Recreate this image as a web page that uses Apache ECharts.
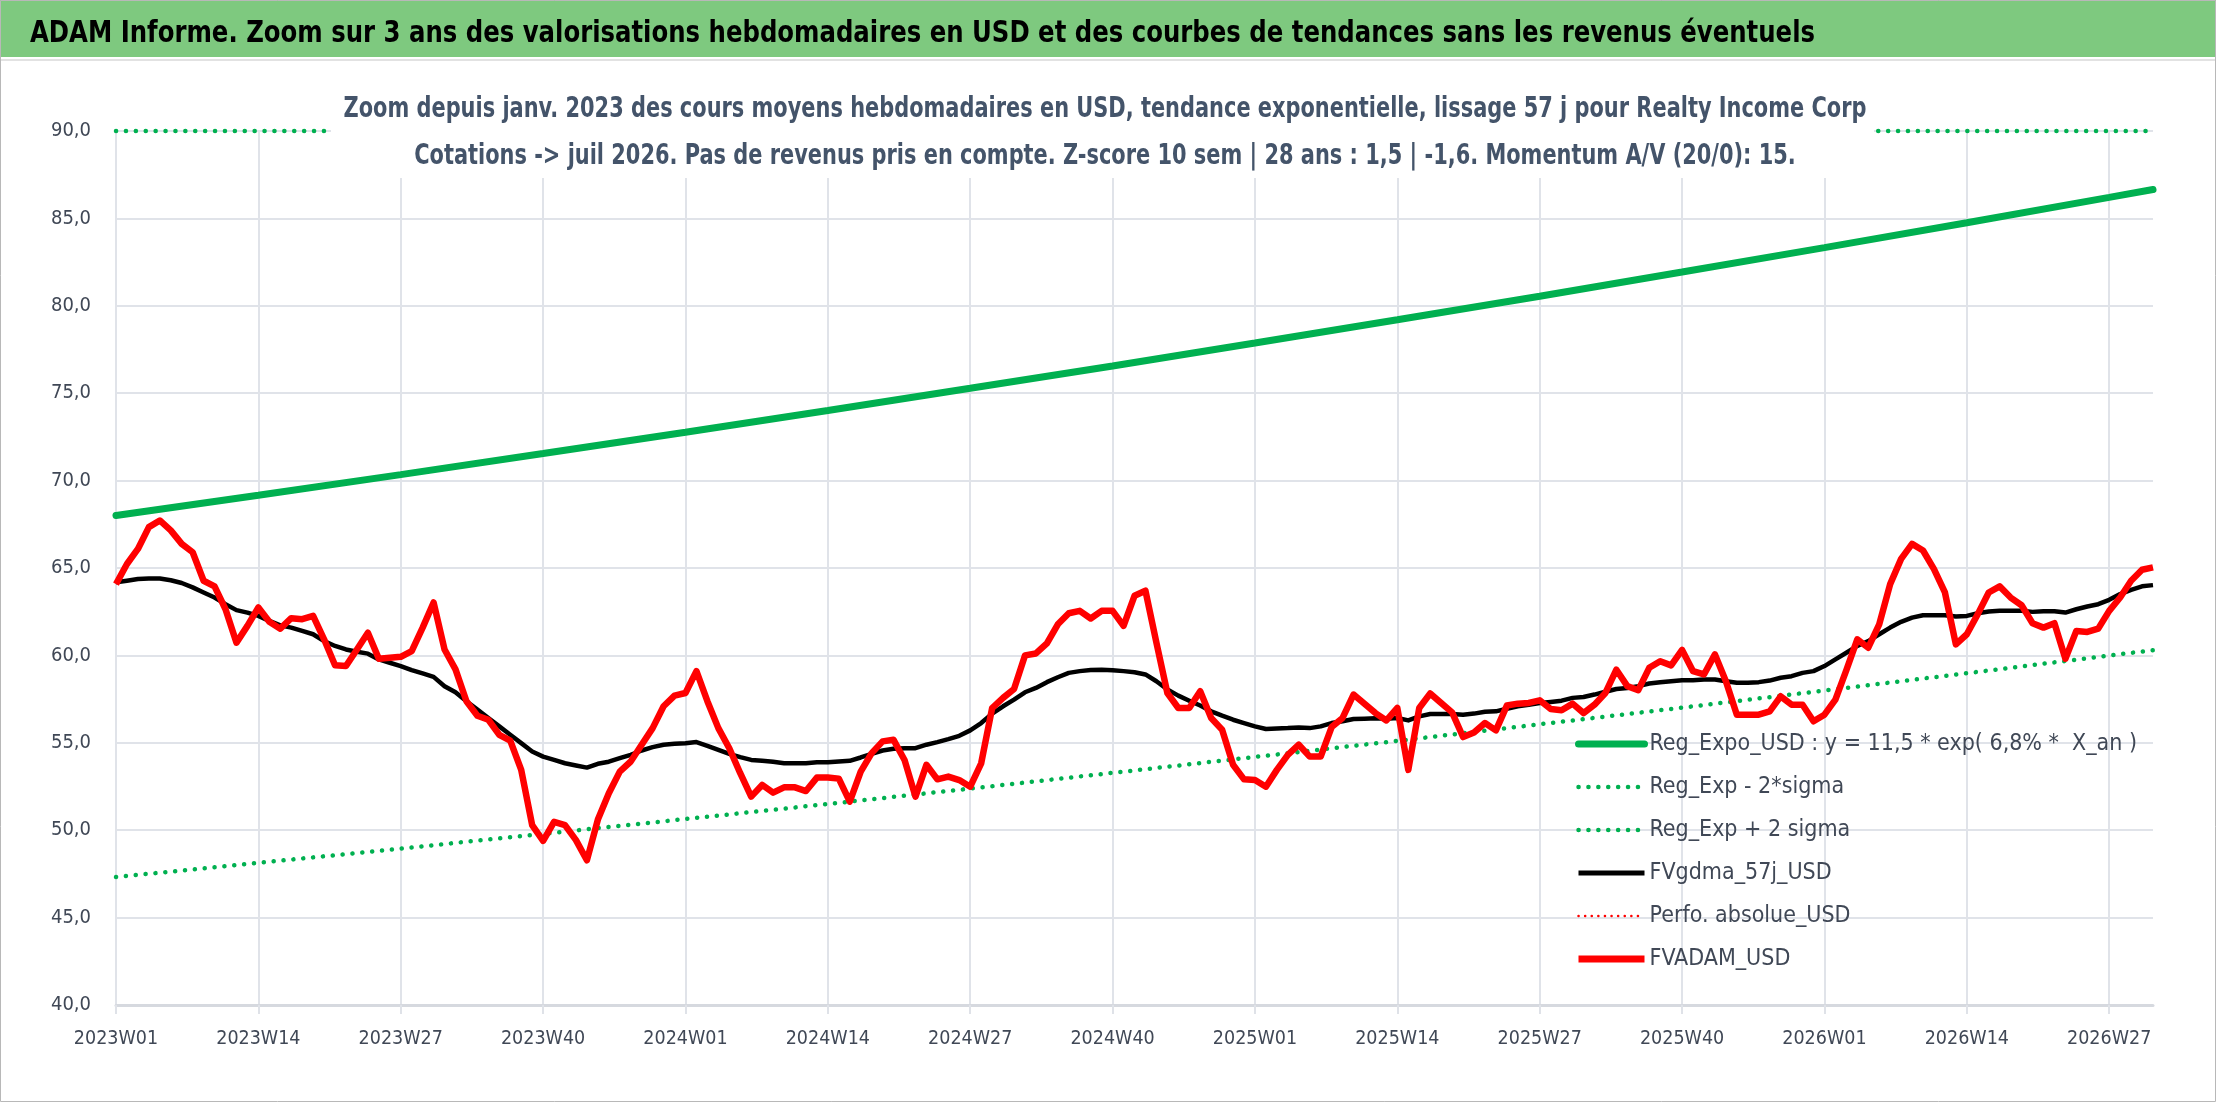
<!DOCTYPE html>
<html><head><meta charset="utf-8">
<script src="https://cdn.jsdelivr.net/npm/echarts@6/dist/echarts.min.js"></script>
<style>html,body{margin:0;padding:0;background:#fff}#c{width:2216px;height:1102px}</style>
</head><body><div id="c"></div>
<script>
const FONT = "'DejaVu Sans Condensed', 'DejaVu Sans', sans-serif";
const mainTitle = "ADAM Informe. Zoom sur 3 ans des valorisations hebdomadaires en USD et des courbes de tendances sans les revenus éventuels";
const subTitle1 = "Zoom depuis janv. 2023 des cours moyens hebdomadaires en USD, tendance exponentielle, lissage 57 j pour Realty Income Corp";
const subTitle2 = "Cotations -> juil 2026. Pas de revenus pris en compte. Z-score 10 sem | 28 ans : 1,5 | -1,6. Momentum A/V (20/0): 15.";
const seriesNames = ["Reg_Expo_USD : y = 11,5 * exp( 6,8% *  X_an )", "Reg_Exp - 2*sigma", "Reg_Exp + 2 sigma", "FVgdma_57j_USD", "Perfo. absolue_USD", "FVADAM_USD"];

// weekly categories 2023W01 .. 2026W31
const years = [2023, 2024, 2025, 2026];
const weeksPerYear = [52, 52, 52, 31];
const categories = [];
years.forEach((y, k) => { for (let w = 1; w <= weeksPerYear[k]; w++) categories.push(y + 'W' + String(w).padStart(2, '0')); });

// trend lines read at every 13th week
const trendIdx = [0, 13, 26, 39, 52, 65, 78, 91, 104, 117, 130, 143, 156, 169, 182, 186];
const regExpo  = [68.00, 69.16, 70.34, 71.55, 72.77, 74.01, 75.28, 76.56, 77.87, 79.20, 80.55, 81.93, 83.33, 84.75, 86.20, 86.65];
const regMinus = [47.32, 48.13, 48.95, 49.79, 50.64, 51.50, 52.38, 53.28, 54.19, 55.11, 56.06, 57.01, 57.99, 58.98, 59.99, 60.30];
const regPlus  = [90, 90, 90, 90, 90, 90, 90, 90, 90, 90, 90, 90, 90, 90, 90, 90];

const fvgdma = [64.18,64.27,64.37,64.4,64.4,64.3,64.14,63.89,63.6,63.31,62.93,62.59,62.45,62.26,61.97,61.72,61.59,61.4,61.21,60.82,
60.54,60.34,60.21,60.1,59.77,59.58,59.39,59.16,58.97,58.77,58.24,57.89,57.38,56.9,56.42,55.94,55.46,54.98,54.5,54.21,
54.02,53.83,53.7,53.58,53.8,53.92,54.12,54.31,54.56,54.75,54.89,54.94,54.98,55.04,54.83,54.6,54.37,54.18,54.02,53.97,
53.91,53.83,53.83,53.83,53.89,53.89,53.93,53.97,54.16,54.37,54.56,54.66,54.69,54.69,54.89,55.04,55.21,55.4,55.71,56.13,
56.67,57.09,57.47,57.89,58.14,58.47,58.75,59.0,59.1,59.16,59.18,59.15,59.1,59.04,58.91,58.52,58.05,57.7,57.41,57.13,
56.8,56.55,56.32,56.13,55.94,55.79,55.82,55.84,55.88,55.84,55.94,56.13,56.23,56.36,56.38,56.4,56.38,56.42,56.28,56.51,
56.65,56.65,56.65,56.61,56.67,56.78,56.8,56.95,57.09,57.18,57.28,57.34,57.41,57.57,57.62,57.76,57.92,58.08,58.14,58.24,
58.39,58.47,58.52,58.58,58.58,58.62,58.62,58.52,58.43,58.43,58.47,58.56,58.72,58.81,59.0,59.1,59.39,59.77,60.15,60.54,
60.82,61.21,61.59,61.92,62.16,62.3,62.3,62.3,62.22,62.26,62.41,62.51,62.55,62.55,62.55,62.49,62.53,62.53,62.45,62.64,
62.8,62.93,63.18,63.51,63.75,63.95,64.02];

const perfoAbs = [];

const fvadam = [64.08,65.23,66.09,67.34,67.72,67.15,66.38,65.9,64.27,63.95,62.64,60.73,61.69,62.74,61.92,61.53,62.13,62.07,62.26,60.92,
59.43,59.39,60.34,61.3,59.81,59.87,59.92,60.25,61.59,63.03,60.34,59.2,57.38,56.55,56.32,55.46,55.13,53.45,50.29,49.39,
50.48,50.29,49.43,48.28,50.61,52.11,53.35,53.93,54.89,55.84,57.09,57.7,57.85,59.1,57.38,55.84,54.69,53.26,51.92,52.59,
52.15,52.45,52.45,52.24,53.01,53.01,52.95,51.63,53.35,54.41,55.08,55.17,54.02,51.92,53.74,52.91,53.07,52.87,52.49,53.83,
56.99,57.57,58.08,60.0,60.11,60.69,61.78,62.41,62.55,62.11,62.55,62.55,61.69,63.41,63.7,60.73,57.85,56.99,56.99,57.95,
56.42,55.75,53.74,52.91,52.87,52.49,53.45,54.31,54.89,54.21,54.21,55.9,56.42,57.76,57.24,56.7,56.28,56.99,53.45,56.99,
57.82,57.28,56.74,55.33,55.59,56.13,55.71,57.13,57.24,57.28,57.43,56.93,56.86,57.24,56.7,57.18,57.85,59.18,58.24,58.01,
59.29,59.67,59.43,60.31,59.1,58.91,60.06,58.52,56.61,56.61,56.61,56.8,57.66,57.18,57.18,56.23,56.61,57.47,59.16,60.92,
60.44,61.78,64.08,65.52,66.38,66.0,64.94,63.6,60.63,61.21,62.36,63.6,63.95,63.31,62.87,61.84,61.59,61.84,59.81,61.4,
61.34,61.53,62.55,63.31,64.27,64.9,65.04];

const pairs = (vals) => trendIdx.map((i, k) => [i, vals[k]]);
const GREEN = '#00b050', RED = '#ff0000', BLACK = '#000000';
const DOT = [0.1, 9.8];
const TXT = '#404856';

// horizontal fit of the condensed headline texts
const mctx = document.createElement('canvas').getContext('2d');
function fitScale(text, font, target) { mctx.font = font; const w = mctx.measureText(text).width; return w > 0 ? target / w : 1; }
const titleFont = "bold 31px 'DejaVu Sans Condensed', 'DejaVu Sans', sans-serif";
const subFont = "bold 28px 'DejaVu Sans Condensed', 'DejaVu Sans', sans-serif";
const titleScale = fitScale(mainTitle, titleFont, 1785);
const subScale = fitScale(subTitle1, subFont, 1523);

const chart = echarts.init(document.getElementById('c'), null, {renderer: 'canvas'});
chart.setOption({
  animation: false,
  backgroundColor: '#ffffff',
  graphic: [
    {type: 'rect', shape: {x: 0, y: 0, width: 2216, height: 57}, style: {fill: '#7ec97f'}, z: 0},
    {type: 'rect', shape: {x: 0, y: 59, width: 2216, height: 2}, style: {fill: '#e2e2e2'}, z: 0},
    {type: 'text', x: 30, y: 34, scaleX: titleScale, z: 60,
     style: {text: mainTitle, x: 0, y: 0, font: titleFont, fill: '#000000', textAlign: 'left', textVerticalAlign: 'middle'}},
    {type: 'rect', shape: {x: 331, y: 78, width: 1543, height: 100}, style: {fill: '#ffffff'}, z: 55},
    {type: 'text', x: 1105, y: 110, scaleX: subScale, z: 60,
     style: {text: subTitle1, x: 0, y: 0, font: subFont, fill: '#44546a', textAlign: 'center', textVerticalAlign: 'middle'}},
    {type: 'text', x: 1105, y: 157, scaleX: subScale, z: 60,
     style: {text: subTitle2, x: 0, y: 0, font: subFont, fill: '#44546a', textAlign: 'center', textVerticalAlign: 'middle'}},
    {type: 'rect', shape: {x: 0.5, y: 0.5, width: 2215, height: 1101}, style: {fill: null, stroke: '#b8b8b8', lineWidth: 1}, z: 100}
  ],
  legend: {
    orient: 'vertical', left: 1575, top: 731, padding: 0, itemWidth: 66, itemHeight: 14, itemGap: 17,
    itemStyle: {opacity: 0},
    textStyle: {fontFamily: FONT, fontSize: 23, lineHeight: 26, color: TXT},
    data: [
      {name: seriesNames[0], lineStyle: {width: 7, color: GREEN}},
      {name: seriesNames[1], lineStyle: {width: 4.5, type: DOT, cap: 'round', color: GREEN}},
      {name: seriesNames[2], lineStyle: {width: 4.5, type: DOT, cap: 'round', color: GREEN}},
      {name: seriesNames[3], lineStyle: {width: 5, color: BLACK}},
      {name: seriesNames[4], lineStyle: {width: 2.5, type: [0.1, 6.5], cap: 'round', color: RED}},
      {name: seriesNames[5], lineStyle: {width: 7, color: RED}}
    ]
  },
  grid: {left: 116, right: 63, top: 131, bottom: 97, containLabel: false},
  xAxis: {
    type: 'category', boundaryGap: false, data: categories,
    axisLine: {show: true, lineStyle: {color: '#d6d9df', width: 3}},
    axisTick: {show: true, interval: 12, length: 9, lineStyle: {color: '#dfe2e8', width: 2}},
    axisLabel: {interval: 12, margin: 24, fontFamily: FONT, fontSize: 19.5, color: TXT},
    splitLine: {show: true, interval: 12, lineStyle: {color: '#e0e3e9', width: 2}}
  },
  yAxis: {
    type: 'value', min: 40, max: 90, interval: 5,
    axisLine: {show: false}, axisTick: {show: false},
    axisLabel: {margin: 25, fontFamily: FONT, fontSize: 20, color: TXT,
      formatter: v => v.toFixed(1).replace('.', ',')},
    splitLine: {show: true, lineStyle: {color: '#e0e3e9', width: 2}}
  },
  series: [
    {name: seriesNames[0], type: 'line', symbol: 'none', data: pairs(regExpo),
     lineStyle: {color: GREEN, width: 7, cap: 'round'}, itemStyle: {color: GREEN}},
    {name: seriesNames[1], type: 'line', symbol: 'none', data: pairs(regMinus),
     lineStyle: {color: GREEN, width: 4.5, type: DOT, cap: 'round'}, itemStyle: {color: GREEN}},
    {name: seriesNames[2], type: 'line', symbol: 'none', data: pairs(regPlus), clip: false,
     lineStyle: {color: GREEN, width: 4.5, type: DOT, cap: 'round'}, itemStyle: {color: GREEN}},
    {name: seriesNames[3], type: 'line', symbol: 'none', data: fvgdma,
     lineStyle: {color: BLACK, width: 4.5, join: 'round'}, itemStyle: {color: BLACK}},
    {name: seriesNames[4], type: 'line', symbol: 'none', data: perfoAbs,
     lineStyle: {color: RED, width: 2.5, type: [0.1, 6.5], cap: 'round'}, itemStyle: {color: RED}},
    {name: seriesNames[5], type: 'line', symbol: 'none', data: fvadam,
     lineStyle: {color: RED, width: 6.5, join: 'round'}, itemStyle: {color: RED}}
  ]
});
</script></body></html>
